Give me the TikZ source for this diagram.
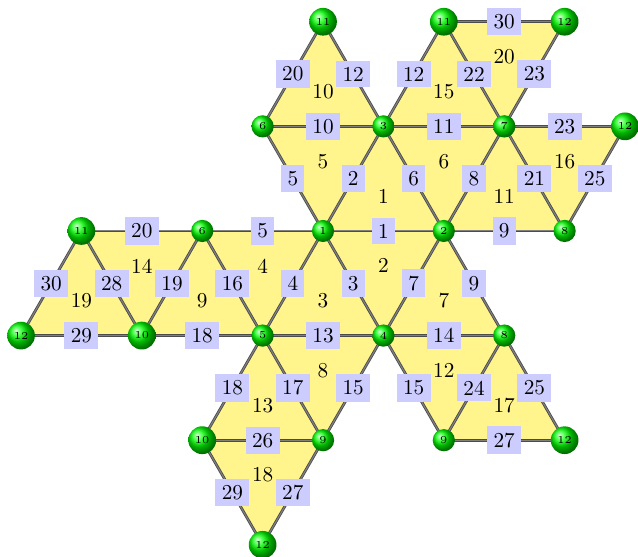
\documentclass[tikz,border=0pt]{standalone}
\usetikzlibrary{shadings}
\definecolor{faceyellow}{RGB}{255,245,140}
\tikzset{
  vtx/.style={circle,shading=ball,ball color=green,inner sep=2pt,font=\tiny},
  edge/.style={draw=black!70,double=black!50,double distance=0.5pt,line width=0.4pt},
  elab/.style={fill=blue!20,inner sep=3pt},
  face/.style={fill=faceyellow}
}
\begin{document}
\begin{tikzpicture}
  \useasboundingbox (-5.348,-5.397) rectangle (5.215,3.824);
  % net positions (side 2cm)
  \coordinate (v11a) at (0,3.464);  \coordinate (v11b) at (2,3.464); \coordinate (v12a) at (4,3.464);
  \coordinate (v6a) at (-1,1.732);  \coordinate (v3) at (1,1.732);   \coordinate (v7) at (3,1.732);
  \coordinate (v12b) at (5,1.732);
  \coordinate (v11c) at (-4,0);     \coordinate (v6b) at (-2,0);     \coordinate (v1) at (0,0);
  \coordinate (v2) at (2,0);        \coordinate (v8a) at (4,0);
  \coordinate (v12c) at (-5,-1.732); \coordinate (v10a) at (-3,-1.732); \coordinate (v5) at (-1,-1.732);
  \coordinate (v4) at (1,-1.732);   \coordinate (v8b) at (3,-1.732);
  \coordinate (v10b) at (-2,-3.464); \coordinate (v9a) at (0,-3.464); \coordinate (v9b) at (2,-3.464);
  \coordinate (v12d) at (4,-3.464);
  \coordinate (v12e) at (-1,-5.196);
  % faces
  \foreach \a/\b/\c/\f in {v1/v2/v3/1, v4/v1/v2/2, v5/v4/v1/3, v5/v6b/v1/4, v1/v6a/v3/5,
      v2/v3/v7/6, v4/v8b/v2/7, v9a/v5/v4/8, v10a/v5/v6b/9, v6a/v3/v11a/10,
      v2/v8a/v7/11, v9b/v4/v8b/12, v10b/v9a/v5/13, v10a/v11c/v6b/14, v3/v7/v11b/15,
      v8a/v7/v12b/16, v9b/v12d/v8b/17, v12e/v10b/v9a/18, v12c/v10a/v11c/19, v7/v11b/v12a/20}
  {
    \fill[face] (\a) -- (\b) -- (\c) -- cycle;
    \node (f\f) at (barycentric cs:\a=1,\b=1,\c=1) {\f};
  }
  % edges
  \foreach \a/\b/\e in {v11b/v12a/30, v6a/v11a/20, v3/v11a/12, v3/v11b/12, v7/v11b/22,
      v7/v12a/23, v6a/v3/10, v3/v7/11, v7/v12b/23, v6a/v1/5, v3/v1/2, v3/v2/6,
      v7/v2/8, v7/v8a/21, v12b/v8a/25, v11c/v6b/20, v6b/v1/5, v1/v2/1, v2/v8a/9,
      v11c/v12c/30, v11c/v10a/28, v6b/v10a/19, v6b/v5/16, v1/v5/4, v1/v4/3,
      v2/v4/7, v2/v8b/9, v12c/v10a/29, v10a/v5/18, v5/v4/13, v4/v8b/14,
      v5/v10b/18, v5/v9a/17, v4/v9a/15, v4/v9b/15, v8b/v9b/24, v8b/v12d/25,
      v10b/v9a/26, v9b/v12d/27, v10b/v12e/29, v9a/v12e/27}
    \draw[edge] (\a) -- node[elab] {\e} (\b);
  % vertices
  \node[vtx] (n11a) at (v11a) {11}; \node[vtx] (n11b) at (v11b) {11}; \node[vtx] (n12a) at (v12a) {12};
  \node[vtx] (n6a) at (v6a) {6};    \node[vtx] (n3) at (v3) {3};      \node[vtx] (n7) at (v7) {7};
  \node[vtx] (n12b) at (v12b) {12};
  \node[vtx] (n11c) at (v11c) {11}; \node[vtx] (n6b) at (v6b) {6};    \node[vtx] (n1) at (v1) {1};
  \node[vtx] (n2) at (v2) {2};      \node[vtx] (n8a) at (v8a) {8};
  \node[vtx] (n12c) at (v12c) {12}; \node[vtx] (n10a) at (v10a) {10}; \node[vtx] (n5) at (v5) {5};
  \node[vtx] (n4) at (v4) {4};      \node[vtx] (n8b) at (v8b) {8};
  \node[vtx] (n10b) at (v10b) {10}; \node[vtx] (n9a) at (v9a) {9};    \node[vtx] (n9b) at (v9b) {9};
  \node[vtx] (n12d) at (v12d) {12};
  \node[vtx] (n12e) at (v12e) {12};
\end{tikzpicture}
\end{document}
